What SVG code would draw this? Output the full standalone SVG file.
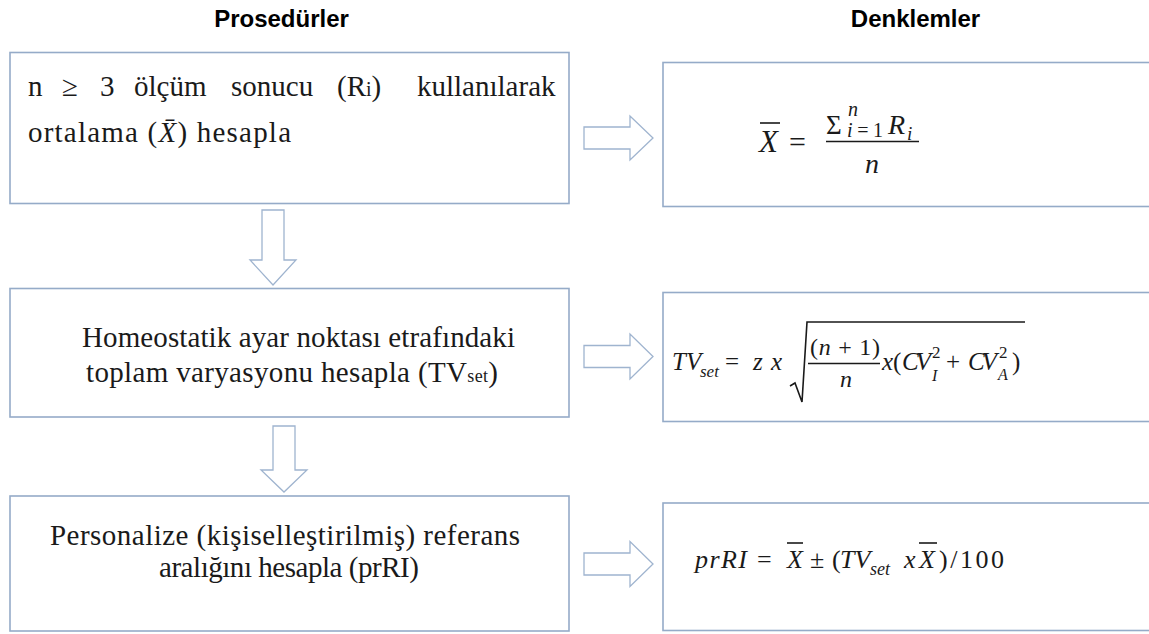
<svg xmlns="http://www.w3.org/2000/svg" width="1149" height="634" viewBox="0 0 1149 634">
<defs>
<style>
.box{fill:#ffffff;stroke:#95abc8;stroke-width:1.6}
.arr{fill:#ffffff;stroke:#9fb4cf;stroke-width:1.3;stroke-linejoin:miter}
.hd{font-family:"Liberation Sans",Arial,sans-serif;font-weight:bold;font-size:24px;fill:#000}
.tx{font-family:"Liberation Serif","Times New Roman",serif;font-size:29px;fill:#1a1a1a}
.m{font-family:"Liberation Serif","Times New Roman",serif;fill:#1a1a1a}
.i{font-style:italic}
.ml{stroke:#1a1a1a;stroke-width:1.6;fill:none}
</style>
</defs>
<rect width="1149" height="634" fill="#ffffff"/>
<text class="hd" x="281.5" y="27" text-anchor="middle">Prosedürler</text>
<text class="hd" x="915.5" y="27" text-anchor="middle">Denklemler</text>

<g id="connectors">
<polygon class="arr" points="262,210 284,210 284,260 296,260 273,285 250,260 262,260"/>
<polygon class="arr" points="273,426 295,426 295,470 307,470 284,492 261,470 273,470"/>
<polygon class="arr" points="584,127 630,127 630,116 653,138 630,160 630,149 584,149"/>
<polygon class="arr" points="584,345.5 630,345.5 630,334 653,356.5 630,379 630,367.5 584,367.5"/>
<polygon class="arr" points="584,553 630,553 630,541.5 653,564 630,586.5 630,575 584,575"/>
</g>

<g id="step1">
<rect class="box" x="10" y="52.5" width="559" height="151"/>
<text class="tx" y="96"><tspan x="28">n</tspan><tspan x="62">≥</tspan><tspan x="100">3</tspan><tspan x="134">ölçüm</tspan><tspan x="231">sonucu</tspan><tspan x="337">(R</tspan><tspan font-size="20">i</tspan><tspan>)</tspan><tspan x="417">kullanılarak</tspan></text>
<text class="tx" x="28" y="142" textLength="263">ortalama (<tspan class="i">X̄</tspan>) hesapla</text>
</g>

<g id="step2">
<rect class="box" x="10" y="288.5" width="559" height="128.5"/>
<text class="tx" x="82" y="347" textLength="433">Homeostatik ayar noktası etrafındaki</text>
<text class="tx" x="86" y="382" textLength="412">toplam varyasyonu hesapla (TV<tspan font-size="18">set</tspan>)</text>
</g>

<g id="step3">
<rect class="box" x="10" y="496" width="559" height="135"/>
<text class="tx" x="50" y="545" textLength="470">Personalize (kişiselleştirilmiş) referans</text>
<text class="tx" x="159" y="577" textLength="260">aralığını hesapla (prRI)</text>
</g>

<g id="eq1">
<rect class="box" x="663" y="62.5" width="495" height="144"/>
<text class="m i" x="759" y="152" font-size="31">X</text>
<line class="ml" x1="760" y1="123" x2="780" y2="123" stroke-width="2.2"/>
<text class="m" x="789" y="152" font-size="30">=</text>
<text class="m" x="826" y="134" font-size="27">Σ</text>
<text class="m i" x="848" y="116" font-size="20">n</text>
<text class="m" x="847" y="137" font-size="20" textLength="36"><tspan class="i">i</tspan>=1</text>
<text class="m i" x="888" y="134" font-size="28">R</text>
<text class="m i" x="907" y="140" font-size="19">i</text>
<line class="ml" x1="826" y1="141.5" x2="919" y2="141.5"/>
<text class="m i" x="865" y="173" font-size="28">n</text>
</g>

<g id="eq2">
<rect class="box" x="663" y="292.5" width="495" height="129"/>
<text class="m i" x="672" y="370" font-size="25">TV</text>
<text class="m i" x="700" y="377" font-size="17">set</text>
<text class="m" x="725" y="370" font-size="25">=</text>
<text class="m i" x="753" y="370" font-size="25">z</text>
<text class="m i" x="771" y="370" font-size="25">x</text>
<path class="ml" d="M790 386 L795 383 L802 402 L807 322 L1025 322" stroke-width="1.5"/>
<text class="m" x="810" y="355" font-size="24" textLength="70">(<tspan class="i">n</tspan> + 1)</text>
<line class="ml" x1="808" y1="363.5" x2="880" y2="363.5"/>
<text class="m i" x="840" y="387" font-size="24">n</text>
<text class="m i" x="882" y="370" font-size="25">x</text>
<text class="m" x="893" y="370" font-size="25">(</text>
<text class="m i" x="902" y="370" font-size="25" textLength="29">CV</text>
<text class="m" x="932" y="358" font-size="17">2</text>
<text class="m i" x="932" y="381" font-size="16">I</text>
<text class="m" x="946" y="370" font-size="25">+</text>
<text class="m i" x="968" y="370" font-size="25" textLength="29">CV</text>
<text class="m" x="999" y="358" font-size="17">2</text>
<text class="m i" x="998" y="380" font-size="16">A</text>
<text class="m" x="1012" y="370" font-size="25">)</text>
</g>

<g id="eq3">
<rect class="box" x="663" y="503" width="495" height="127.5"/>
<text class="m i" x="695" y="568" font-size="26" textLength="52">prRI</text>
<text class="m" x="757" y="568" font-size="26">=</text>
<text class="m i" x="787" y="568" font-size="26">X</text>
<line class="ml" x1="787" y1="543" x2="803" y2="543" stroke-width="2"/>
<text class="m" x="810" y="568" font-size="26">±</text>
<text class="m" x="832" y="568" font-size="26">(</text>
<text class="m i" x="840" y="568" font-size="26">TV</text>
<text class="m i" x="870" y="575" font-size="18">set</text>
<text class="m i" x="904" y="568" font-size="26">x</text>
<text class="m i" x="919" y="568" font-size="26">X</text>
<line class="ml" x1="919" y1="543" x2="937" y2="543" stroke-width="2"/>
<text class="m" x="939" y="568" font-size="26" textLength="65">)/100</text>
</g>
</svg>
